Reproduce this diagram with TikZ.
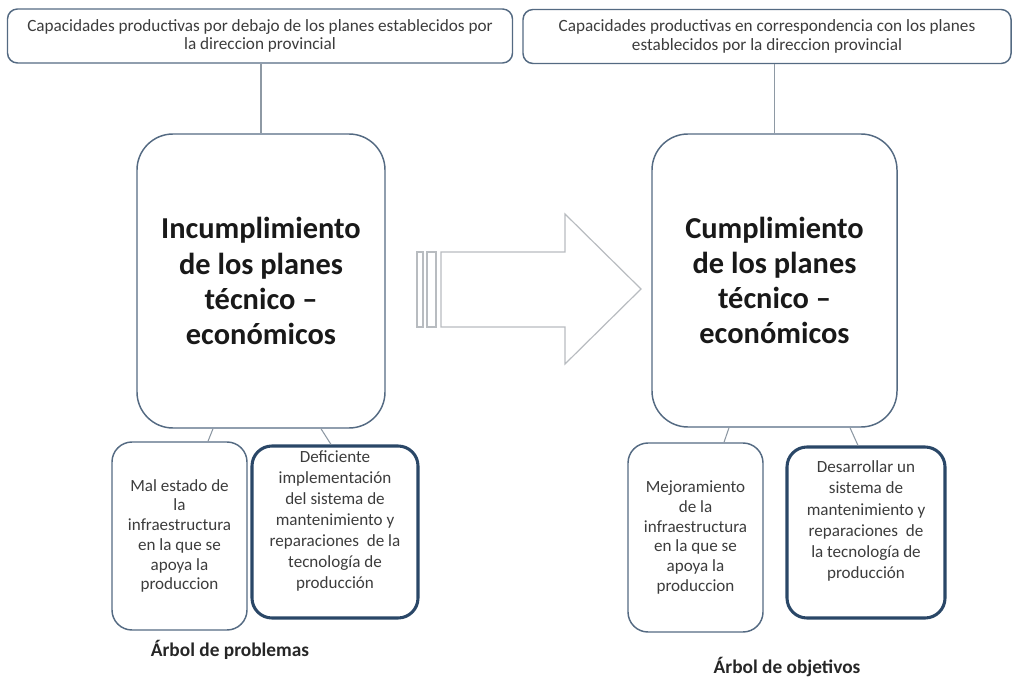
\documentclass[tikz,border=0pt]{standalone}
\usepackage{fontspec}
\setmainfont{Carlito}
\usepackage{xcolor}
\usepackage{tikz}
\usetikzlibrary{calc}

\definecolor{boxblue}{HTML}{546A82}
\definecolor{deepblue}{HTML}{2A4767}
\definecolor{linegray}{HTML}{8E99A4}
\definecolor{arrowgray}{HTML}{B8BCC0}
\definecolor{txtgray}{HTML}{3C3C3C}

\def\px{0.75pt}

\begin{document}
\begin{tikzpicture}[x=0.75pt, y=-0.75pt,
  capbox/.style={draw=boxblue, line width=1.1pt, rounded corners=7.5pt, align=center,
    text=txtgray, inner sep=0pt, font=\fontsize{12.9}{13.8}\selectfont},
  mainbox/.style={draw=boxblue, line width=1.1pt, rounded corners=27pt, align=center,
    text=black!90, inner sep=0pt, font=\bfseries\fontsize{22.8}{26.3}\selectfont},
  causebox/.style={draw=boxblue, line width=1.1pt, rounded corners=15pt, align=center,
    text=txtgray, inner sep=0pt, font=\fontsize{12.8}{14.8}\selectfont},
  keybox/.style={draw=deepblue, line width=2.3pt, rounded corners=15pt, inner sep=0pt},
  keytext/.style={align=center, text=txtgray, inner sep=0pt, font=\fontsize{12.8}{15.8}\selectfont},
  link/.style={draw=linegray, line width=0.8pt},
  treetitle/.style={text=black!85, inner sep=0pt, font=\bfseries\fontsize{14.5}{17}\selectfont}
]
  \useasboundingbox (0,0) rectangle (1012,677);

  % Top boxes
  \node[capbox, minimum width=505*\px, minimum height=54*\px] (capL) at (260,36)
    {Capacidades productivas por debajo de los planes establecidos por\\la direccion provincial};
  \node[capbox, minimum width=488*\px, minimum height=54*\px] (capR) at (767,36.5)
    {Capacidades productivas en correspondencia con los planes\\establecidos por la direccion provincial};

  % Central problems / objectives
  \node[mainbox, minimum width=248*\px, minimum height=294*\px] (incum) at (261,281)
    {Incumplimiento\\de los planes\\técnico --\\económicos};
  \node[mainbox, minimum width=245*\px, minimum height=293*\px] (cumpl) at (774.5,280.5)
    {Cumplimiento\\de los planes\\técnico --\\económicos};

  % Arrow between the two trees
  \draw[arrowgray, line width=0.9pt] (417,252) rectangle (423,327);
  \draw[arrowgray, line width=0.9pt] (427,252) rectangle (436,327);
  \draw[arrowgray, line width=0.9pt] (441,252) -- (565,252) -- (565,214) -- (641,289)
    -- (565,364) -- (565,327) -- (441,327) -- cycle;

  % Causes (left tree)
  \node[causebox, minimum width=135*\px, minimum height=188*\px] (malest) at (179.5,536)
    {Mal estado de\\la\\infraestructura\\en la que se\\apoya la\\produccion};
  \node[keybox, minimum width=166*\px, minimum height=172*\px] (defic) at (335,532) {};
  \node[keytext] (deficT) at (335,521)
    {Deficiente\\implementación\\del sistema de\\mantenimiento y\\reparaciones\ \ de la\\tecnología de\\producción};

  % Means (right tree)
  \node[causebox, minimum width=135*\px, minimum height=189*\px] (mejor) at (695.5,537.5)
    {Mejoramiento\\de la\\infraestructura\\en la que se\\apoya la\\produccion};
  \node[keybox, minimum width=158*\px, minimum height=171*\px] (desarr) at (866,532.5) {};
  \node[keytext] (desarrT) at (866,521)
    {Desarrollar un\\sistema de\\mantenimiento y\\reparaciones\ \ de\\la tecnología de\\producción};

  % Connectors
  \draw[link] (incum.north |- capL.south) -- (incum.north);
  \draw[link] (cumpl.north |- capR.south) -- (cumpl.north);
  \draw[link] ($(incum.south)+(-48,0)$) -- ($(malest.north)+(28.5,0)$);
  \draw[link] ($(incum.south)+(60,0)$) -- ($(defic.north)+(-4,0)$);
  \draw[link] ($(cumpl.south)+(-45.5,0)$) -- ($(mejor.north)+(28.5,0)$);
  \draw[link] ($(cumpl.south)+(75.5,0)$) -- ($(desarr.north)+(-8,0)$);

  % Tree titles
  \node[treetitle] (arbolP) at (230,650) {Árbol de problemas};
  \node[treetitle] (arbolO) at (787,667) {Árbol de objetivos};
\end{tikzpicture}
\end{document}
